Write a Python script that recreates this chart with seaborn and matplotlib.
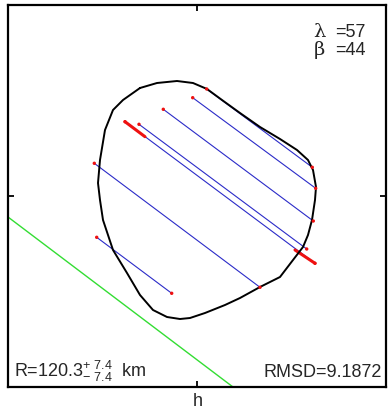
import numpy as np
import pandas as pd
import matplotlib
matplotlib.use("Agg")
import matplotlib.pyplot as plt
import seaborn as sns

# ---- data (km, centred on the tick origin) ----
contour_x = [-57, -40, -20, -4, 10, 25, 43, 63, 83, 100, 111, 116, 119, 118, 115, 111,
             106, 96, 83, 63, 43, 28, 8, -7, -17, -30, -44, -57, -70, -84, -94, -97,
             -99, -97, -92, -84, -74, -57]
contour_y = [108, 113, 115, 113, 107, 96, 83, 69, 57, 46, 36, 26, 9, -4, -24, -39,
             -51, -64, -81, -91, -102, -109, -117, -122, -123, -121, -114, -99, -77, -54, -24, -4,
             13, 36, 66, 86, 96, 108]

chord_x0 = [9.7, -4.3, -33.7, -58.0, -72.0, -102.7, -100.3]
chord_y0 = [107.0, 98.3, 86.7, 71.7, 74.3, 32.7, -41.3]
chord_x1 = [115.3, 118.7, 116.3, 109.7, 118.0, 63.0, -25.3]
chord_y1 = [28.7, 7.7, -25.0, -53.0, -67.3, -91.3, -97.3]

# uncertainty segments on chord 5
err_x0 = [-72.0, 98.0]
err_y0 = [74.3, -54.0]
err_x1 = [-52.0, 118.0]
err_y1 = [59.3, -67.3]

limb_x = [-189, 36]
limb_y = [-21, -191]

lam, beta = 57, 44
radius, r_err = 120.3, 7.4
rmsd = 9.1872

# ---- figure ----
sns.set_theme(style="white")
plt.rcParams["font.family"] = ["Liberation Sans", "DejaVu Sans"]
plt.rcParams["mathtext.fontset"] = "custom"
plt.rcParams["mathtext.rm"] = "Liberation Sans"
plt.rcParams["mathtext.it"] = "Liberation Sans"

fig = plt.figure(figsize=(3.9, 4.13), dpi=100)
W, H = 390, 413
ax = fig.add_axes([8 / W, (H - 387) / H, 378 / W, 382 / H])
ax.set_xlim(-189, 189)
ax.set_ylim(-191, 191)

# limb line (green)
sns.lineplot(x=limb_x, y=limb_y, ax=ax, color="#33dd33", lw=1.0, sort=False, estimator=None)

# chords
rows = []
for i in range(len(chord_x0)):
    rows.append((i, chord_x0[i], chord_y0[i]))
    rows.append((i, chord_x1[i], chord_y1[i]))
chords = pd.DataFrame(rows, columns=["chord", "x", "y"])
sns.lineplot(data=chords, x="x", y="y", units="chord", estimator=None, sort=False,
             ax=ax, color="#2b2bc8", lw=0.8)

erows = []
for i in range(len(err_x0)):
    erows.append((i, err_x0[i], err_y0[i]))
    erows.append((i, err_x1[i], err_y1[i]))
errs = pd.DataFrame(erows, columns=["seg", "x", "y"])
sns.lineplot(data=errs, x="x", y="y", units="seg", estimator=None, sort=False,
             ax=ax, color="#ee1111", lw=2.2)

sns.scatterplot(data=chords, x="x", y="y", ax=ax, color="#ee1111", s=6,
                edgecolor="none", zorder=5)

# contour
sns.lineplot(x=contour_x, y=contour_y, ax=ax, color="black", lw=1.4, sort=False,
             estimator=None, zorder=4)

# axes styling
ax.set_xticks([0])
ax.set_yticks([0])
ax.set_xticklabels([])
ax.set_yticklabels([])
ax.tick_params(direction="in", length=4, width=1.3, top=True, right=True,
               bottom=True, left=True, color="black")
for s in ax.spines.values():
    s.set_color("black")
    s.set_linewidth(1.6)
ax.set_xlabel("")
ax.set_ylabel("")

fig.text(198 / W, 1 - 402 / H, "h", ha="center", va="center", fontsize=13)

# annotations
greek = ["DejaVu Serif", "Liberation Serif"]
ax.text(0.808, 0.916, "\u03bb", transform=ax.transAxes, fontsize=14,
        family=greek, ha="left", va="baseline")
ax.text(0.866, 0.916, f"={lam}", transform=ax.transAxes, fontsize=13, ha="left", va="baseline")
ax.text(0.808, 0.869, "\u03b2", transform=ax.transAxes, fontsize=14,
        family=greek, ha="left", va="baseline")
ax.text(0.866, 0.869, f"={beta}", transform=ax.transAxes, fontsize=13, ha="left", va="baseline")

ax.text(0.015, 0.025, rf"R={radius}$^{{+\ {r_err}}}_{{-\ {r_err}}}$  km",
        transform=ax.transAxes, fontsize=13, ha="left", va="baseline")
ax.text(0.99, 0.025, f"RMSD={rmsd}", transform=ax.transAxes, fontsize=13,
        ha="right", va="baseline")

fig.savefig("out.png", dpi=100)
